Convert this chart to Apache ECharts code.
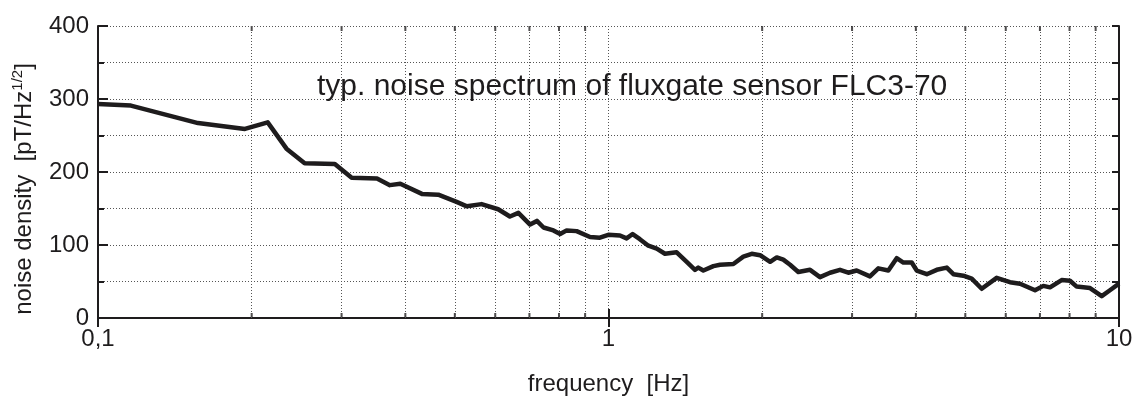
<!DOCTYPE html>
<html>
<head>
<meta charset="utf-8">
<title>FLC3-70 noise spectrum</title>
<script src="https://cdn.jsdelivr.net/npm/echarts@6/dist/echarts.min.js"></script>
<style>
  html, body { margin: 0; padding: 0; background: #fff; }
  #chart { width: 1136px; height: 401px; }
</style>
</head>
<body>
<div id="chart"></div>
<script>
// spectrum (frequency in Hz, noise in pT/sqrt(Hz))
const freqHz = [
  0.1, 0.116, 0.157, 0.194, 0.215, 0.234, 0.254, 0.291, 0.314, 0.352,
  0.373, 0.391, 0.431, 0.464, 0.504, 0.528, 0.564, 0.608, 0.641, 0.666,
  0.702, 0.724, 0.746, 0.78, 0.804, 0.828, 0.866, 0.92, 0.962, 0.999,
  1.053, 1.085, 1.115, 1.152, 1.197, 1.243, 1.29, 1.36, 1.423, 1.477,
  1.499, 1.534, 1.605, 1.654, 1.756, 1.837, 1.908, 1.981, 2.073, 2.136,
  2.2, 2.268, 2.354, 2.482, 2.596, 2.716, 2.841, 2.949, 3.063, 3.252,
  3.377, 3.533, 3.669, 3.781, 3.926, 4.016, 4.202, 4.396, 4.599, 4.738,
  4.955, 5.146, 5.383, 5.759, 6.115, 6.4, 6.847, 7.108, 7.326, 7.72,
  8.017, 8.262, 8.775, 9.25, 9.6, 10
]
const noiseDensity = [
  293, 291, 267, 259, 268, 232, 212, 211, 192, 191,
  182, 184, 170, 169, 159, 153, 156, 149, 139, 144,
  128, 133, 124, 120, 115, 120, 119, 111, 110, 114,
  113, 109, 115, 108, 99, 95, 88, 90, 77, 66,
  69, 65, 71, 73, 74, 84, 88, 86, 77, 83,
  80, 73, 63, 66, 56, 62, 66, 62, 65, 57,
  68, 65, 82, 76, 76, 65, 60, 66, 69, 60,
  58, 54, 40, 55, 49, 47, 38, 44, 42, 52,
  51, 43, 41, 30, 38, 47
]
const xTickLabels = { 0.1: '0,1', 1: '1', 10: '10' }
const yTicks = [0, 100, 200, 300, 400]
// 2..9 in each decade, for dotted grid and small ticks
const minorFreqs = [0.2, 0.3, 0.4, 0.5, 0.6, 0.7, 0.8, 0.9, 2, 3, 4, 5, 6, 7, 8, 9]

const ink = '#1e1c1d'
const gridDots = { color: '#555', width: 1, type: [1, 2] }
const font = 'Liberation Sans, Arial, sans-serif'

const chart = echarts.init(document.getElementById('chart'))

const option = {
  animation: false,
  backgroundColor: '#fff',
  title: {
    text: 'typ. noise spectrum of fluxgate sensor FLC3-70',
    left: 317,
    top: 72,
    padding: 0,
    textStyle: { fontFamily: font, fontSize: 30, fontWeight: 'normal', color: ink }
  },
  grid: { left: 98, right: 17, top: 26, bottom: 72, containLabel: false },
  xAxis: [
    {
      type: 'log',
      logBase: 10,
      min: 0.1,
      max: 10,
      name: 'frequency  [Hz]',
      nameLocation: 'middle',
      nameGap: 54,
      nameTextStyle: { fontFamily: font, fontSize: 24, color: ink },
      axisLine: { lineStyle: { color: ink, width: 2 } },
      axisTick: { inside: true, length: 9, lineStyle: { color: ink, width: 2 } },
      axisLabel: {
        margin: 9,
        fontFamily: font,
        fontSize: 24,
        color: ink,
        formatter: v => xTickLabels[+v.toPrecision(3)] || ''
      },
      splitLine: { show: true, lineStyle: gridDots }
    },
    {
      type: 'log',
      logBase: 10,
      min: 0.1,
      max: 10,
      position: 'top',
      axisLine: { lineStyle: { color: ink, width: 2 } },
      axisTick: { inside: true, length: 9, lineStyle: { color: ink, width: 2 } },
      axisLabel: { show: false },
      splitLine: { show: false }
    }
  ],
  yAxis: [
    {
      type: 'value',
      min: yTicks[0],
      max: yTicks[yTicks.length - 1],
      interval: 100,
      name: '{a|noise density  [pT/Hz}{s|1/2}{a|]}',
      nameLocation: 'middle',
      nameRotate: 90,
      nameGap: 60,
      nameTextStyle: {
        padding: [0, 34, 0, 0],
        rich: {
          a: { fontFamily: font, fontSize: 24, color: ink, lineHeight: 28 },
          s: { fontFamily: font, fontSize: 15, color: ink, lineHeight: 28, verticalAlign: 'top' }
        }
      },
      axisLine: { show: true, lineStyle: { color: ink, width: 2 } },
      axisTick: { inside: true, length: 10, lineStyle: { color: ink, width: 2 } },
      minorTick: { show: true, splitNumber: 2, length: 6, lineStyle: { color: ink, width: 2 } },
      axisLabel: { margin: 9, fontFamily: font, fontSize: 24, color: ink },
      splitLine: { show: true, lineStyle: gridDots },
      minorSplitLine: { show: true, lineStyle: gridDots }
    },
    {
      type: 'value',
      min: yTicks[0],
      max: yTicks[yTicks.length - 1],
      interval: 100,
      position: 'right',
      axisLine: { show: true, lineStyle: { color: ink, width: 2 } },
      axisTick: { inside: true, length: 7, lineStyle: { color: ink, width: 2 } },
      minorTick: { show: true, splitNumber: 2, length: 7, lineStyle: { color: ink, width: 2 } },
      axisLabel: { show: false },
      splitLine: { show: false }
    }
  ],
  series: [
    {
      name: 'noise',
      type: 'line',
      xAxisIndex: 0,
      yAxisIndex: 0,
      data: freqHz.map((f, i) => [f, noiseDensity[i]]),
      showSymbol: false,
      symbol: 'none',
      lineStyle: { color: ink, width: 4.5, join: 'round' },
      z: 5,
      markLine: {
        silent: true,
        symbol: 'none',
        label: { show: false },
        lineStyle: gridDots,
        data: minorFreqs.map(f => ({ xAxis: f }))
      }
    },
    {
      // small inward ticks on bottom frame
      type: 'scatter',
      silent: true,
      symbol: 'rect',
      symbolSize: [2, 5],
      symbolOffset: [0, -2.5],
      itemStyle: { color: ink },
      data: minorFreqs.map(f => [f, yTicks[0]])
    },
    {
      // and on the top frame
      type: 'scatter',
      silent: true,
      symbol: 'rect',
      symbolSize: [2, 5],
      symbolOffset: [0, 2.5],
      itemStyle: { color: ink },
      data: minorFreqs.map(f => [f, yTicks[yTicks.length - 1]])
    }
  ]
}

chart.setOption(option)

window.addEventListener('resize', () => {
  chart.resize()
})
</script>
</body>
</html>
